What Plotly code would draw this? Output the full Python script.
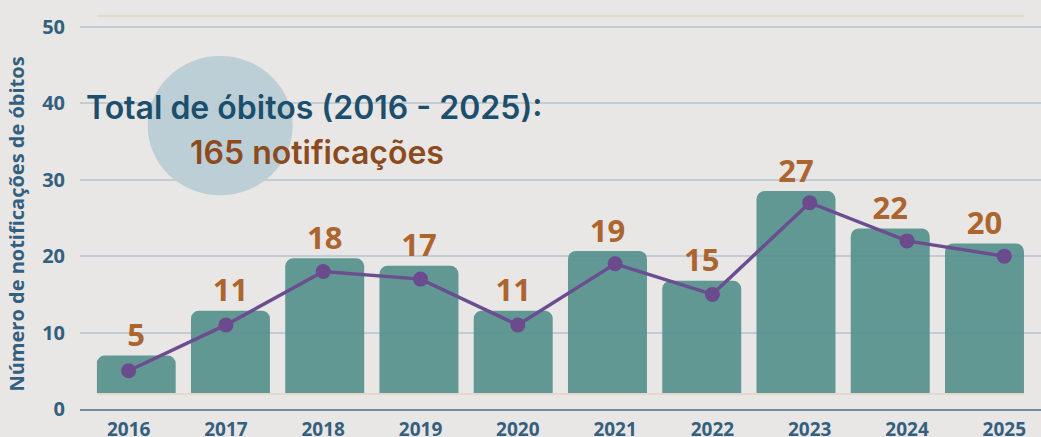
import plotly.graph_objects as go

years = ["2016", "2017", "2018", "2019", "2020", "2021", "2022", "2023", "2024", "2025"]
deaths = [5, 11, 18, 17, 11, 19, 15, 27, 22, 20]
y_ticks = [0, 10, 20, 30, 40, 50]
title_line1 = "Total de óbitos (2016 - 2025):"
title_line2 = "165 notificações"
y_title = "Número de notificações de óbitos"

BG = "#E9E7E5"
TICK_COLOR = "#34607F"
LABEL_COLOR = "#AD6530"

fig = go.Figure()

# invisible trace to set up the main axes (grid, ticks)
fig.add_trace(go.Scatter(
    x=years, y=deaths, xaxis="x", yaxis="y", mode="markers",
    marker=dict(opacity=0), hoverinfo="skip",
))

# bars (own subplot, drawn above the grid)
fig.add_trace(go.Bar(
    x=years, y=deaths, xaxis="x2", yaxis="y2",
    marker=dict(color="rgba(82,143,139,0.9)", line=dict(width=0)),
    hoverinfo="skip",
))

# value labels above the bars
fig.add_trace(go.Scatter(
    x=years, y=deaths, xaxis="x2", yaxis="y2", mode="markers+text",
    marker=dict(size=1, opacity=0),
    text=[str(v) for v in deaths], textposition="top center",
    textfont=dict(family="Open Sans", size=31, color=LABEL_COLOR, weight=700),
    cliponaxis=False, hoverinfo="skip",
))

# line (top subplot, same scale as the main axes)
fig.add_trace(go.Scatter(
    x=years, y=deaths, xaxis="x3", yaxis="y3", mode="lines+markers",
    line=dict(color="#6B4E90", width=3.5),
    marker=dict(color="#6B4A8E", size=15),
    cliponaxis=False, hoverinfo="skip",
))

hidden = dict(showticklabels=False, showgrid=False, ticks="", zeroline=False,
              showline=False, automargin=False)

fig.update_layout(
    width=1041, height=437, autosize=False,
    margin=dict(l=80, r=0, t=17, b=28, pad=0),
    paper_bgcolor=BG, plot_bgcolor="rgba(0,0,0,0)",
    showlegend=False,
    bargap=0.162,
    barcornerradius=8,
    font=dict(family="Open Sans", color=TICK_COLOR),
    xaxis=dict(
        type="category", range=[-0.5, 9.377], automargin=False, domain=[0, 1],
        showgrid=False, showline=True, linecolor="#6F8DA0", linewidth=1.5,
        ticks="", ticklabelstandoff=2,
        tickfont=dict(family="Open Sans", size=19, color=TICK_COLOR, weight=700),
        zeroline=False, fixedrange=True,
    ),
    yaxis=dict(
        range=[0, 51.3], tickvals=y_ticks, showgrid=True, automargin=False, domain=[0, 1],
        gridcolor="#C2CCD2", gridwidth=1.5, zeroline=False, showline=False,
        ticks="", ticklabelstandoff=14,
        tickfont=dict(family="Open Sans", size=20, color=TICK_COLOR, weight=700),
    ),
    xaxis2=dict(
        type="category", anchor="y2",
        domain=[0.01738, 0.9823], range=[-0.419, 9.419],
        showticklabels=False, showgrid=False, ticks="", zeroline=False, automargin=False,
        showline=True, mirror=True, linecolor="#E4D7CB", linewidth=1.5,
    ),
    yaxis2=dict(
        anchor="x2", domain=[0.0408, 1.0], range=[0, 50.27], **hidden,
    ),
    xaxis3=dict(type="category", anchor="y3", domain=[0, 1], range=[-0.5, 9.377], **hidden),
    yaxis3=dict(anchor="x3", domain=[0, 1], range=[0, 51.3], **hidden),
    shapes=[dict(
        type="circle", xref="paper", yref="paper",
        x0=0.0704, x1=0.2213, y0=0.545, y1=0.9005,
        fillcolor="#BCCFD6", line=dict(width=0), layer="below",
    )],
    annotations=[
        dict(text=y_title, xref="paper", yref="paper", x=-0.0656, y=0.473,
             xanchor="center", yanchor="middle", textangle=-90, showarrow=False,
             font=dict(family="Open Sans", size=20, color=TICK_COLOR, weight=700)),
        dict(text=title_line1, xref="paper", yref="paper", x=0.2445, y=0.768,
             xanchor="center", yanchor="middle", showarrow=False,
             font=dict(family="Inter", size=32, color="#1C4F6D", weight=600)),
        dict(text=title_line2, xref="paper", yref="paper", x=0.247, y=0.655,
             xanchor="center", yanchor="middle", showarrow=False,
             font=dict(family="Inter", size=32, color="#8C4B1F", weight=600)),
    ],
)

fig.write_html("out.html", config={"displayModeBar": False},
               post_script="document.body.style.margin='0px';")
